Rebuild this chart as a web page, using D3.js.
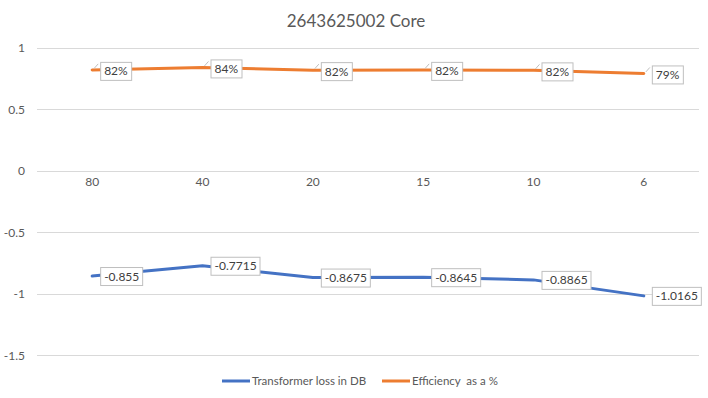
<!DOCTYPE html>
<html><head><meta charset="utf-8">
<script src="https://cdn.jsdelivr.net/npm/d3@7"></script>
<style>
body{margin:0;background:#fff;}
svg{font-family:Lato,"Open Sans",sans-serif;}
</style></head>
<body><svg id="c" width="708" height="398"></svg>
<script>
const categories = ["80","40","20","15","10","6"];
const lossValues = [-0.855,-0.7715,-0.8675,-0.8645,-0.8865,-1.0165];
const lossLabels = ["-0.855","-0.7715","-0.8675","-0.8645","-0.8865","-1.0165"];
const effValues = [0.822,0.842,0.82,0.822,0.818,0.793];
const effLabels = ["82%","84%","82%","82%","82%","79%"];
const yTicks = [-1.5,-1,-0.5,0,0.5,1];
const seriesNames = ["Transformer loss in DB","Efficiency  as a %"];
const colors = ["#4472C4","#ED7D31"];

const svg = d3.select("#c");
const x = d3.scaleBand().domain(categories).range([37,699]);
const y = d3.scaleLinear().domain([-1.5,1]).range([355.3,48]);

svg.append("text").attr("x",356).attr("y",27).attr("text-anchor","middle")
  .attr("font-size",17).attr("fill","#595959").text("2643625002 Core");

// gridlines
svg.append("g").selectAll("line").data(yTicks).join("line")
  .attr("x1",37).attr("x2",699).attr("y1",d=>Math.round(y(d))+0.5).attr("y2",d=>Math.round(y(d))+0.5)
  .attr("stroke","#d9d9d9").attr("stroke-width",1);

// y axis labels
const yAxis = d3.axisLeft(y).tickValues(yTicks).tickSize(0).tickPadding(0).tickFormat(d=>String(d));
const gy = svg.append("g").attr("transform","translate(25,0)").call(yAxis);
gy.select(".domain").remove();
gy.selectAll("text").attr("font-size",12).attr("fill","#595959").attr("font-family","Lato,'Open Sans',sans-serif");

// x axis labels at y=0
const xAxis = d3.axisBottom(x).tickSize(0).tickPadding(0);
const gx = svg.append("g").attr("transform",`translate(0,${y(0)+7})`).call(xAxis);
gx.select(".domain").remove();
gx.selectAll("text").attr("font-size",12).attr("fill","#595959").attr("font-family","Lato,'Open Sans',sans-serif");

const cx = c => x(c)+x.bandwidth()/2;
const line = d3.line().x((d,i)=>cx(categories[i])).y(d=>y(d));

[lossValues,effValues].forEach((vals,s)=>{
  svg.append("path").datum(vals).attr("d",line).attr("fill","none")
    .attr("stroke",colors[s]).attr("stroke-width",3).attr("stroke-linecap","round").attr("stroke-linejoin","round");
});

// leader lines for efficiency
svg.append("g").selectAll("line").data(effValues).join("line")
  .attr("x1",(d,i)=>cx(categories[i])+2).attr("y1",d=>y(d)-1.5)
  .attr("x2",(d,i)=>cx(categories[i])+6).attr("y2",d=>y(d)-6)
  .attr("stroke","#bfbfbf").attr("stroke-width",1);

function labels(vals,texts,dy){
  const g = svg.append("g");
  vals.forEach((v,i)=>{
    const px = cx(categories[i])+8, py = y(v)+dy;
    const t = g.append("text").attr("x",px+4).attr("y",py+4.5).attr("font-size",12).attr("fill","#404040").text(texts[i]);
    const w = t.node().getComputedTextLength();
    g.insert("rect","text").attr("x",px+0.5).attr("y",py-9+0.5).attr("width",Math.round(w+7)).attr("height",18)
      .attr("fill","#fff").attr("stroke","#bfbfbf").attr("stroke-width",1);
  });
}
labels(effValues,effLabels,1);
labels(lossValues,lossLabels,0);

// legend
const leg = [[222,252],[382,412]];
seriesNames.forEach((n,s)=>{
  svg.append("line").attr("x1",leg[s][0]).attr("x2",leg[s][0]+28).attr("y1",381).attr("y2",381)
    .attr("stroke",colors[s]).attr("stroke-width",3);
  svg.append("text").attr("x",leg[s][1]).attr("y",385).attr("font-size",11.5).attr("fill","#595959")
    .style("white-space","pre").attr("xml:space","preserve").text(n);
});
</script></body></html>
